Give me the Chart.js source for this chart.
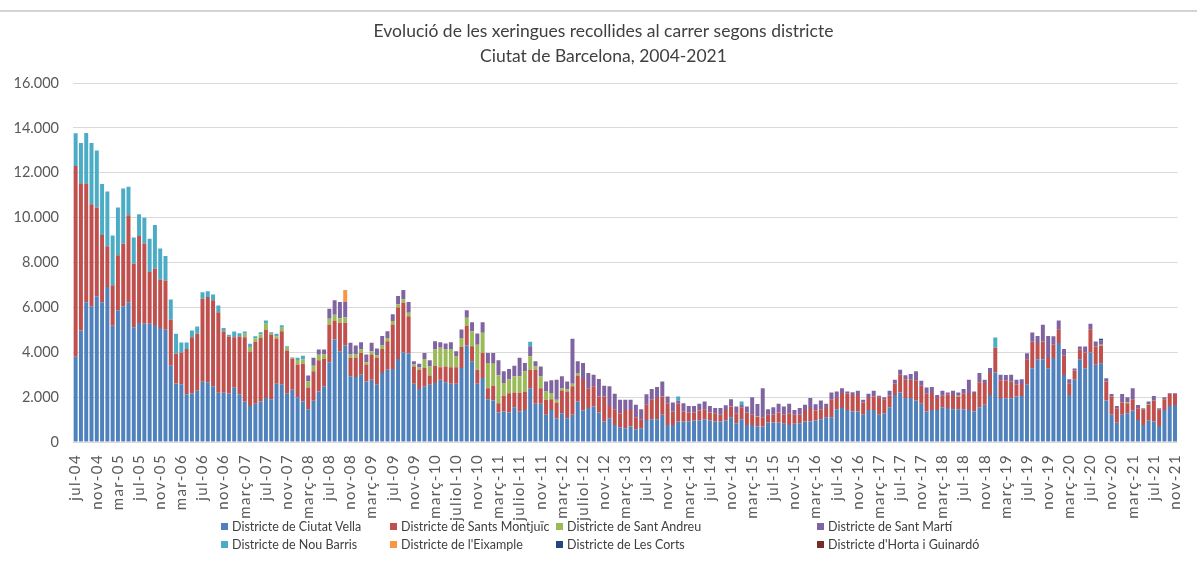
<!DOCTYPE html>
<html>
<head>
<meta charset="utf-8">
<script src="https://cdn.jsdelivr.net/npm/chart.js@4"></script>
<style>
  body { margin: 0; background: #fff; }
  #wrap { position: relative; width: 1197px; height: 567px; }
  #topline { position: absolute; left: 0; top: 10px; width: 1197px; height: 0; border-top: 2px solid #d4d4d4; }
  .leg { position: absolute; font: 12.5px Lato, sans-serif; color: #404040; white-space: nowrap; }
  .leg span { display: inline-block; width: 7px; height: 7px; margin-right: 4px; vertical-align: 1px; }
</style>
</head>
<body>
<div id="wrap">
  <canvas id="myChart" width="1197" height="567"></canvas>
  <div id="topline"></div>
  <div id="legend"></div>
</div>
<script>
// jul-04 .. nov-21, one value per month (rows = years)
var ciutatVella = [
  3800, 4970, 6230, 6050, 6500, 6230,
  6910, 5180, 5870, 6050, 6230, 5110, 5300, 5270, 5270, 5220, 5080, 5000,
  3400, 2610, 2570, 2130, 2160, 2280, 2690, 2660, 2490, 2190, 2190, 2160,
  2420, 2130, 1790, 1600, 1700, 1810, 1960, 1910, 2600, 2550, 2150, 2330,
  2000, 1810, 1460, 1840, 2250, 2480, 3550, 4570, 4050, 4300, 2930, 2900,
  3000, 2700, 2780, 2550, 3080, 3220, 3250, 3700, 4000, 3940, 2600, 2360,
  2480, 2550, 2630, 2780, 2660, 2600, 2600, 3300, 4300, 3600, 2600, 2850,
  1910, 1850, 1310, 1360, 1310, 1550, 1360, 1430, 2400, 1700, 1700, 1210,
  1430, 1060, 1280, 1060, 1210, 1800, 1400, 1510, 1580, 1310, 910, 1060,
  760, 660, 610, 690, 570, 610, 985, 1015, 1015, 1210, 760, 760,
  910, 910, 910, 955, 955, 1015, 955, 910, 910, 955, 1100, 840,
  1015, 760, 760, 690, 690, 870, 870, 870, 810, 760, 810, 840,
  910, 910, 955, 1015, 1100, 1100, 1460, 1510, 1430, 1360, 1360, 1210,
  1430, 1430, 1210, 1280, 1550, 2100, 2210, 1960, 1960, 1850, 1700, 1360,
  1430, 1430, 1550, 1510, 1460, 1460, 1460, 1430, 1360, 1550, 1660, 2100,
  3100, 1960, 1950, 1950, 2030, 2050, 2550, 3290, 3690, 3690, 3290, 3740,
  4410, 2990, 2100, 2770, 3690, 3290, 3990, 3440, 3510, 1850, 1210, 860,
  1210, 1280, 1400, 980, 760, 950, 910, 715, 1430, 1610, 1650
];
var santsMontjuic = [
  8500, 6560, 5270, 4550, 3950, 3000,
  1820, 1810, 2450, 2790, 3880, 2830, 3880, 3580, 2310, 2510, 2160, 2200,
  2050, 1320, 1420, 2010, 2510, 2540, 3690, 3800, 3830, 3590, 2740, 2540,
  2250, 2570, 2880, 2430, 2760, 2830, 3060, 2880, 2010, 2390, 1930, 1390,
  1450, 1680, 970, 1310, 1390, 1220, 1690, 850, 1270, 1020, 820, 850,
  970, 750, 1120, 1200, 1070, 1270, 1990, 2290, 2210, 1670, 770, 860,
  820, 410, 770, 550, 710, 730, 730, 940, 870, 670, 620, 1120,
  490, 660, 420, 700, 860, 660, 820, 820, 820, 1520, 700, 670,
  480, 700, 1020, 1190, 1270, 1160, 1410, 890, 900, 720, 1120, 550,
  700, 620, 820, 740, 530, 400, 675, 865, 945, 820, 940, 600,
  790, 450, 400, 355, 445, 445, 355, 370, 300, 475, 480, 440,
  535, 550, 450, 440, 410, 340, 340, 440, 400, 520, 400, 370,
  520, 600, 450, 445, 410, 780, 500, 670, 720, 740, 740, 550,
  530, 600, 780, 630, 510, 500, 790, 820, 820, 900, 810, 790,
  750, 530, 510, 620, 640, 570, 690, 750, 820, 1110, 970, 980,
  1100, 790, 790, 750, 520, 540, 1140, 1190, 720, 790, 450, 590,
  620, 850, 520, 420, 420, 700, 1040, 820, 780, 850, 820, 640,
  550, 450, 480, 520, 670, 700, 940, 745, 480, 530, 490
];
var santAndreu = [
  0, 0, 0, 0, 0, 0,
  0, 0, 0, 0, 0, 0, 0, 0, 0, 0, 0, 0,
  0, 0, 0, 0, 0, 0, 0, 0, 0, 0, 0, 0,
  0, 0, 150, 200, 150, 150, 250, 80, 100, 150, 120, 40,
  200, 200, 280, 250, 250, 200, 250, 250, 200, 230, 150, 150,
  150, 100, 150, 120, 150, 150, 150, 150, 150, 150, 80, 100,
  400, 400, 720, 870, 750, 820, 500, 400, 370, 670, 1120, 900,
  1120, 980, 1240, 570, 620, 710, 750, 900, 600, 150, 520, 370,
  270, 120, 100, 100, 120, 120, 0, 0, 0, 0, 0, 0,
  0, 0, 0, 0, 0, 0, 0, 0, 0, 0, 0, 0,
  0, 0, 0, 0, 0, 0, 0, 0, 0, 0, 0, 0,
  0, 0, 0, 30, 0, 0, 0, 0, 0, 0, 0, 0,
  0, 0, 0, 0, 0, 0, 0, 0, 0, 0, 0, 0,
  0, 0, 0, 0, 0, 0, 0, 0, 0, 0, 0, 0,
  0, 0, 0, 0, 0, 30, 0, 0, 0, 0, 0, 0,
  0, 0, 0, 0, 0, 0, 0, 0, 0, 0, 0, 0,
  0, 0, 0, 0, 0, 0, 0, 0, 40, 0, 0, 0,
  0, 40, 0, 0, 0, 40, 0, 0, 0, 0, 0
];
var santMarti = [
  0, 0, 0, 0, 0, 0,
  0, 0, 0, 0, 0, 0, 0, 0, 0, 0, 0, 0,
  0, 0, 0, 0, 0, 0, 0, 0, 0, 0, 0, 0,
  0, 0, 0, 0, 0, 0, 0, 0, 0, 0, 0, 0,
  0, 0, 250, 350, 230, 220, 450, 650, 720, 700, 520, 400,
  330, 350, 370, 300, 420, 300, 300, 370, 420, 480, 150, 170,
  270, 280, 370, 250, 270, 300, 220, 380, 330, 400, 500, 470,
  450, 480, 670, 520, 460, 480, 820, 370, 450, 230, 450, 450,
  570, 900, 530, 350, 2000, 520, 710, 680, 520, 780, 480, 870,
  690, 600, 450, 450, 560, 450, 470, 480, 490, 670, 330, 400,
  150, 370, 300, 300, 300, 350, 300, 230, 300, 210, 330, 300,
  100, 270, 780, 530, 1300, 250, 340, 390, 370, 420, 220, 300,
  230, 450, 280, 390, 190, 330, 290, 220, 100, 120, 180, 120,
  190, 250, 70, 80, 220, 180, 220, 190, 250, 400, 220, 280,
  270, 140, 220, 80, 190, 150, 210, 600, 70, 420, 150, 220,
  0, 250, 250, 300, 220, 210, 270, 400, 320, 750, 990, 380,
  390, 300, 180, 90, 150, 270, 240, 220, 200, 140, 110, 110,
  380, 220, 520, 150, 30, 110, 200, 40, 90, 30, 30
];
var nouBarris = [
  1460, 1800, 2270, 2730, 2540, 2270,
  2440, 2220, 2130, 2460, 1270, 1170, 970, 1150, 1480, 1940, 1390, 1090,
  900, 890, 440, 290, 300, 330, 290, 260, 250, 300, 150, 80,
  260, 150, 110, 150, 100, 100, 150, 30, 110, 110, 70, 20,
  100, 160, 0, 0, 0, 0, 0, 0, 0, 0, 0, 0,
  0, 0, 0, 0, 0, 0, 0, 0, 0, 0, 0, 0,
  0, 0, 0, 0, 0, 0, 0, 0, 0, 0, 0, 0,
  0, 0, 0, 0, 0, 0, 0, 0, 200, 0, 0, 0,
  0, 0, 0, 0, 0, 0, 0, 0, 0, 0, 0, 0,
  0, 0, 0, 0, 0, 0, 0, 0, 0, 0, 0, 0,
  180, 0, 0, 0, 0, 0, 0, 0, 0, 0, 0, 0,
  160, 0, 0, 0, 0, 0, 0, 0, 0, 0, 0, 0,
  0, 0, 0, 0, 0, 0, 0, 0, 0, 0, 0, 0,
  0, 0, 0, 0, 0, 0, 0, 0, 0, 0, 0, 0,
  0, 0, 0, 0, 0, 0, 0, 0, 0, 0, 0, 0,
  460, 0, 0, 0, 0, 0, 0, 0, 0, 0, 0, 0,
  0, 0, 0, 0, 0, 0, 0, 0, 0, 0, 0, 0,
  0, 0, 0, 0, 0, 0, 0, 0, 0, 0, 0
];
var eixample = [
  0, 0, 0, 0, 0, 0,
  0, 0, 0, 0, 0, 0, 0, 0, 0, 0, 0, 0,
  0, 0, 0, 0, 0, 0, 0, 0, 0, 0, 0, 0,
  0, 0, 0, 0, 0, 0, 0, 0, 0, 0, 0, 0,
  0, 0, 0, 0, 0, 0, 0, 0, 0, 530, 0, 0,
  0, 0, 0, 0, 0, 0, 0, 0, 0, 0, 0, 0,
  0, 0, 0, 0, 0, 0, 0, 0, 0, 0, 0, 0,
  0, 0, 0, 0, 0, 0, 0, 0, 0, 0, 0, 0,
  0, 0, 0, 0, 0, 0, 0, 0, 0, 0, 0, 0,
  0, 0, 0, 0, 0, 0, 0, 0, 0, 0, 0, 0,
  0, 0, 0, 0, 0, 0, 0, 0, 0, 0, 0, 0,
  0, 0, 0, 0, 0, 0, 0, 0, 0, 0, 0, 0,
  0, 0, 0, 0, 0, 0, 0, 0, 0, 0, 0, 0,
  0, 0, 0, 0, 0, 0, 0, 0, 0, 0, 0, 0,
  0, 0, 0, 0, 0, 0, 0, 0, 0, 0, 0, 0,
  0, 0, 0, 0, 0, 0, 0, 0, 0, 0, 0, 0,
  0, 0, 0, 0, 0, 0, 0, 0, 0, 0, 0, 0,
  0, 0, 0, 0, 0, 0, 0, 0, 0, 0, 0
];
var lesCorts = [
  0, 0, 0, 0, 0, 0,
  0, 0, 0, 0, 0, 0, 0, 0, 0, 0, 0, 0,
  0, 0, 0, 0, 0, 0, 0, 0, 0, 0, 0, 0,
  0, 0, 0, 0, 0, 0, 0, 0, 0, 0, 0, 0,
  0, 0, 0, 0, 0, 0, 0, 0, 0, 0, 0, 0,
  0, 0, 0, 0, 0, 0, 0, 0, 0, 0, 0, 0,
  0, 0, 0, 0, 0, 0, 0, 0, 0, 0, 0, 0,
  0, 0, 0, 0, 0, 0, 0, 0, 0, 0, 0, 0,
  0, 0, 0, 0, 0, 0, 0, 0, 0, 0, 0, 0,
  0, 0, 0, 0, 0, 0, 0, 0, 0, 0, 0, 0,
  0, 0, 0, 0, 0, 0, 0, 0, 0, 0, 0, 0,
  0, 0, 0, 0, 0, 0, 0, 0, 0, 0, 0, 0,
  0, 0, 0, 0, 0, 0, 0, 0, 0, 0, 0, 0,
  0, 0, 0, 0, 0, 0, 0, 0, 0, 0, 0, 0,
  0, 0, 0, 0, 0, 0, 0, 0, 0, 0, 0, 0,
  0, 0, 0, 0, 0, 0, 0, 0, 0, 0, 0, 0,
  0, 0, 0, 0, 0, 0, 0, 0, 70, 0, 0, 0,
  0, 0, 0, 0, 0, 0, 0, 0, 0, 0, 0
];
var horta = [
  0, 0, 0, 0, 0, 0,
  0, 0, 0, 0, 0, 0, 0, 0, 0, 0, 0, 0,
  0, 0, 0, 0, 0, 0, 0, 0, 0, 0, 0, 0,
  0, 0, 0, 0, 0, 0, 0, 0, 0, 0, 0, 0,
  0, 0, 0, 0, 0, 0, 0, 0, 0, 0, 0, 0,
  0, 0, 0, 0, 0, 0, 0, 0, 0, 0, 0, 0,
  0, 0, 0, 0, 0, 0, 0, 0, 0, 0, 0, 0,
  0, 0, 0, 0, 0, 0, 0, 0, 0, 0, 0, 0,
  0, 0, 0, 0, 0, 0, 0, 0, 0, 0, 0, 0,
  0, 0, 0, 0, 0, 0, 0, 0, 0, 0, 0, 0,
  0, 0, 0, 0, 0, 0, 0, 0, 0, 0, 0, 0,
  0, 0, 0, 0, 0, 0, 0, 0, 0, 0, 0, 0,
  0, 0, 0, 0, 0, 0, 0, 0, 0, 0, 0, 0,
  0, 0, 0, 0, 0, 0, 0, 0, 0, 0, 0, 0,
  0, 0, 0, 0, 0, 0, 0, 0, 0, 0, 0, 0,
  0, 0, 0, 0, 0, 0, 0, 0, 0, 0, 0, 0,
  0, 0, 0, 0, 0, 0, 0, 0, 0, 0, 0, 0,
  0, 0, 0, 0, 30, 0, 0, 0, 0, 0, 0
];

// every 4th month gets a label on the axis
var tickLabels = ["jul-04", "nov-04", "mar-05", "jul-05", "nov-05", "mar-06", "jul-06", "nov-06",
  "març-07", "jul-07", "nov-07", "març-08", "jul-08", "nov-08", "març-09", "jul-09", "nov-09",
  "març-10", "juliol-10", "nov-10", "març-11", "juliol-11", "nov-11", "març-12", "juliol-12", "nov-12",
  "març-13", "jul-13", "nov-13", "març-14", "jul-14", "nov-14", "març-15", "jul-15", "nov-15",
  "març-16", "jul-16", "nov-16", "març-17", "jul-17", "nov-17", "març-18", "jul-18", "nov-18",
  "març-19", "jul-19", "nov-19", "març-20", "jul-20", "nov-20", "març-21", "jul-21", "nov-21"];

var monthNames = ["gen", "febr", "març", "abr", "maig", "juny", "jul", "ag", "set", "oct", "nov", "des"];

var seriesNames = ["Districte de Ciutat Vella", "Districte de Sants Montjuïc", "Districte de Sant Andreu",
  "Districte de Sant Martí", "Districte de Nou Barris", "Districte de l'Eixample",
  "Districte de Les Corts", "Districte d'Horta i Guinardó"];
var seriesColors = ["#4f81bd", "#c0504d", "#9bbb59", "#8064a2", "#4bacc6", "#f79646", "#1f497d", "#772c2a"];

function buildMonths() {
  var out = [];
  for (var i = 0; i < ciutatVella.length; i++) {
    var m = (6 + i) % 12;
    var y = 4 + Math.floor((6 + i) / 12);
    out.push(monthNames[m] + "-" + (y < 10 ? "0" + y : y));
  }
  return out;
}

// the original axis text is drawn stretched, a bit of letter spacing gets close to it
var spacedLabels = {
  id: 'spacedLabels',
  beforeDraw: function (chart) {
    var xs = chart.scales.x;
    if (xs.drawLabels.spaced) return;
    var orig = xs.drawLabels;
    xs.drawLabels = function (area) {
      chart.ctx.save();
      chart.ctx.letterSpacing = '1.4px';
      orig.call(xs, area);
      chart.ctx.restore();
    };
    xs.drawLabels.spaced = true;
  }
};

function init() {
  var allData = [ciutatVella, santsMontjuic, santAndreu, santMarti, nouBarris, eixample, lesCorts, horta];
  var datasets = [];
  for (var i = 0; i < allData.length; i++) {
    datasets.push({
      label: seriesNames[i],
      data: allData[i],
      backgroundColor: seriesColors[i],
      borderWidth: 0,
      barPercentage: 0.75,
      categoryPercentage: 1
    });
  }

  var ctx = document.getElementById('myChart').getContext('2d');
  var chart = new Chart(ctx, {
    type: 'bar',
    data: {
      labels: buildMonths(),
      datasets: datasets
    },
    plugins: [spacedLabels],
    options: {
      responsive: false,
      animation: false,
      devicePixelRatio: 1,
      layout: { padding: { left: 12, right: 2, top: 0, bottom: 0 } },
      plugins: {
        legend: { display: false },
        tooltip: { enabled: false },
        title: {
          display: true,
          text: ["Evolució de les xeringues recollides al carrer segons districte", "Ciutat de Barcelona, 2004-2021"],
          color: '#404040',
          font: { family: 'Lato', size: 17.5, weight: 'normal', lineHeight: 1.43 },
          padding: { top: 18.5, bottom: 14.5 }
        }
      },
      scales: {
        x: {
          stacked: true,
          grid: { display: false },
          border: { display: false },
          ticks: {
            autoSkip: false,
            maxRotation: 90,
            minRotation: 90,
            padding: 4,
            color: '#595959',
            font: { family: 'Lato', size: 15 },
            callback: function (value, index) {
              return index % 4 === 0 ? tickLabels[index / 4] : null;
            }
          },
          afterFit: function (scale) { scale.height = 125; }
        },
        y: {
          stacked: true,
          min: 0,
          max: 16000,
          border: { display: false },
          grid: { color: '#d9d9d9', drawTicks: false },
          ticks: {
            stepSize: 2000,
            padding: 14,
            color: '#595959',
            font: { family: 'Lato', size: 14.5 },
            callback: function (value) {
              return value.toString().replace(/\B(?=(\d{3})+(?!\d))/g, '.');
            }
          },
          afterFit: function (scale) { scale.width = 61; }
        }
      }
    }
  });

  // legend in 4 columns like the original
  var colLeft = [221, 390, 556, 817];
  var rowTop = [519, 537];
  var legend = document.getElementById('legend');
  for (var k = 0; k < datasets.length; k++) {
    var item = document.createElement('div');
    item.className = 'leg';
    item.style.left = colLeft[k % 4] + 'px';
    item.style.top = rowTop[Math.floor(k / 4)] + 'px';
    item.innerHTML = '<span style="background:' + seriesColors[k] + '"></span>' + seriesNames[k];
    legend.appendChild(item);
  }
}

init();
</script>
</body>
</html>
